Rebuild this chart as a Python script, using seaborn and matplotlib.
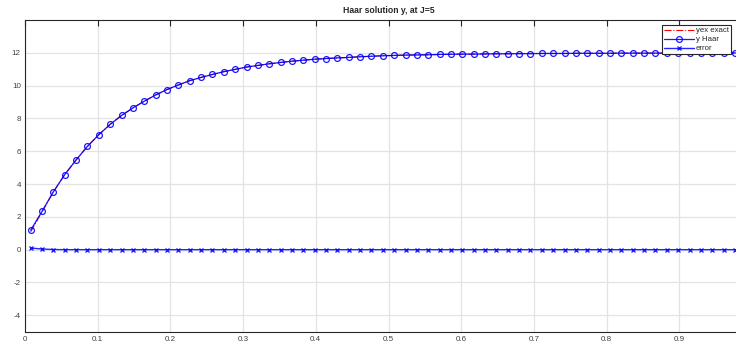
import matplotlib

matplotlib.use("Agg")

import matplotlib.pyplot as plt
import numpy as np
import pandas as pd
import seaborn as sns


# collocation points for J=5 (2M = 64)
x_points = [(i + 0.5) / 64 for i in range(64)]

y_haar = [
    1.19, 2.34, 3.53, 4.58, 5.47, 6.30, 7.01, 7.64, 8.18, 8.64,
    9.05, 9.43, 9.76, 10.04, 10.30, 10.50, 10.68, 10.85, 10.99, 11.13,
    11.23, 11.33, 11.41, 11.49, 11.55, 11.61, 11.65, 11.69, 11.72, 11.76,
    11.79, 11.82, 11.84, 11.86, 11.87, 11.88, 11.90, 11.91, 11.92, 11.92,
    11.93, 11.94, 11.94, 11.95, 11.95, 11.96, 11.96, 11.96, 11.97, 11.97,
    11.97, 11.97, 11.98, 11.98, 11.98, 11.98, 11.98, 11.98, 11.99, 11.99,
    11.99, 11.99, 11.99, 11.99,
]

y_exact = [
    1.09, 2.30, 3.52, 4.58, 5.47, 6.30, 7.01, 7.64, 8.18, 8.64,
    9.05, 9.43, 9.76, 10.04, 10.30, 10.50, 10.68, 10.85, 10.99, 11.13,
    11.23, 11.33, 11.41, 11.49, 11.55, 11.61, 11.65, 11.69, 11.72, 11.76,
    11.79, 11.82, 11.84, 11.86, 11.87, 11.88, 11.90, 11.91, 11.92, 11.92,
    11.93, 11.94, 11.94, 11.95, 11.95, 11.96, 11.96, 11.96, 11.97, 11.97,
    11.97, 11.97, 11.98, 11.98, 11.98, 11.98, 11.98, 11.98, 11.99, 11.99,
    11.99, 11.99, 11.99, 11.99,
]

error = [0.10, 0.04, 0.01] + [0.0] * 61

x_ticks = [0, 0.1, 0.2, 0.3, 0.4, 0.5, 0.6, 0.7, 0.8, 0.9]
x_tick_labels = ["0", "0.1", "0.2", "0.3", "0.4", "0.5", "0.6", "0.7", "0.8", "0.9"]
y_ticks = [-4, -2, 0, 2, 4, 6, 8, 10, 12]

df = pd.DataFrame({"x": x_points, "exact": y_exact, "haar": y_haar, "error": error})

sns.set_style("white")
plt.rcParams["font.family"] = ["Liberation Sans", "DejaVu Sans"]
plt.rcParams["axes.unicode_minus"] = False

W, H = 736, 342
fig = plt.figure(figsize=(W / 100, H / 100), dpi=100)
# axes runs past the right edge of the image, like the cropped original
ax = fig.add_axes([25 / W, (H - 331.7) / H, 727 / W, (331.7 - 20) / H])

sns.lineplot(data=df, x="x", y="exact", ax=ax, color="red", linestyle="-.",
             linewidth=0.8, label="yex exact", zorder=2)
sns.lineplot(data=df, x="x", y="haar", ax=ax, color="blue", linewidth=0.9,
             marker="o", markersize=4.2, markerfacecolor="none",
             markeredgecolor="blue", markeredgewidth=0.9, alpha=0.9,
             label="y Haar", zorder=3)
sns.lineplot(data=df, x="x", y="error", ax=ax, color="blue", linewidth=1.0,
             marker="x", markersize=3, markeredgewidth=1.0,
             markeredgecolor="blue", alpha=0.85,
             label="error", zorder=3)

ax.set_xlim(0, 1)
ax.set_ylim(-5, 14)
ax.set_xticks(x_ticks)
ax.set_xticklabels(x_tick_labels)
ax.set_yticks(y_ticks)
ax.set_xlabel("")
ax.set_ylabel("")
ax.grid(True, color="#e3e3e3", linewidth=0.9)
ax.set_axisbelow(True)
for side in ax.spines.values():
    side.set_color("#262626")
    side.set_linewidth(0.8)
ax.tick_params(axis="both", direction="in", length=4, width=0.8,
               labelsize=5.8, labelcolor="#404040", color="#262626",
               top=True, right=True, pad=3)

ax.set_title("Haar solution y, at J=5", fontsize=6.2, fontweight="bold", pad=5)

leg = ax.legend(loc="upper left", bbox_to_anchor=(662 / W, 1 - 25 / H),
                bbox_transform=fig.transFigure, fontsize=5.6, frameon=True,
                fancybox=False, framealpha=1, edgecolor="#262626",
                handlelength=3.8, borderpad=0.25, labelspacing=0.2,
                handletextpad=0.3, borderaxespad=0)
leg.get_frame().set_linewidth(0.8)

fig.savefig("out.png", dpi=100)
